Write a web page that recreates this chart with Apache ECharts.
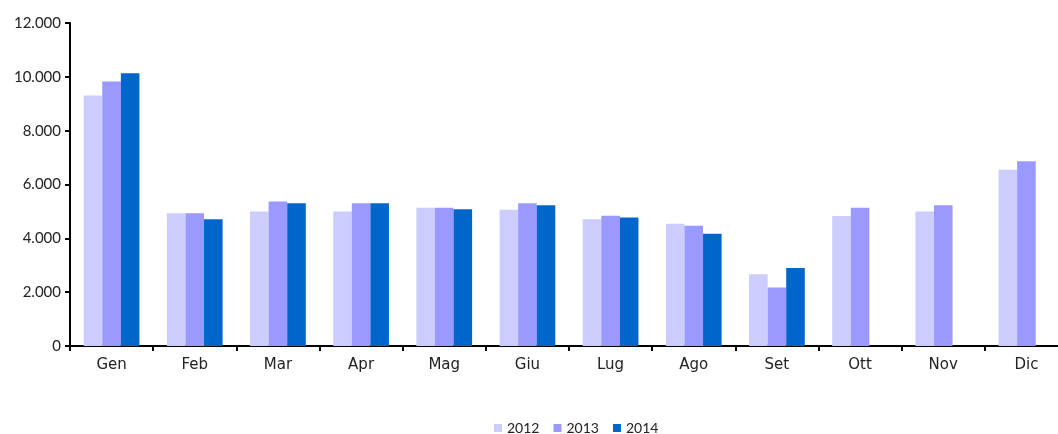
<!DOCTYPE html>
<html><head><meta charset="utf-8">
<script src="https://cdn.jsdelivr.net/npm/echarts@6/dist/echarts.min.js"></script>
<style>html,body{margin:0;padding:0;background:#fff}#c{width:1058px;height:434px}</style>
</head><body><div id="c"></div>
<script>
const categories = ['Gen','Feb','Mar','Apr','Mag','Giu','Lug','Ago','Set','Ott','Nov','Dic'];
const s2012 = [9310,4930,5000,5000,5140,5060,4710,4540,2670,4830,5000,6550];
const s2013 = [9830,4930,5370,5300,5140,5300,4840,4470,2170,5140,5230,6860];
const s2014 = [10130,4710,5300,5300,5080,5230,4770,4170,2900,null,null,null];
const yTicks = [0,2000,4000,6000,8000,10000,12000];
const NUMFONT = 'Lato, "DejaVu Sans", sans-serif';
const TXTFONT = '"DejaVu Sans", Lato, sans-serif';
const chart = echarts.init(document.getElementById('c'));
const fmt = v => v === 0 ? '0' : (v/1000).toFixed(0) + '.000';
chart.setOption({
  animation: false,
  textStyle: {fontFamily: NUMFONT},
  grid: {left: 70, width: 998, top: 23, height: 323, containLabel: false, outerBoundsMode: 'none'},
  legend: {
    top: 416, left: 489, itemWidth: 8, itemHeight: 8, itemGap: 14,
    icon: 'rect', textStyle: {fontSize: 14, color: '#222', fontFamily: NUMFONT},
    data: ['2012','2013','2014']
  },
  xAxis: {
    type: 'category', data: categories,
    axisLine: {lineStyle: {color: '#000', width: 2}},
    axisTick: {show: true, length: 5, lineStyle: {color: '#000', width: 2}},
    axisLabel: {fontSize: 15, color: '#222', margin: 12, fontFamily: TXTFONT}
  },
  yAxis: {
    type: 'value', min: 0, max: yTicks[yTicks.length-1], interval: 2000,
    splitLine: {show: false},
    axisLine: {show: true, lineStyle: {color: '#000', width: 2}},
    axisTick: {show: true, length: 5, lineStyle: {color: '#000', width: 2}},
    axisLabel: {fontSize: 15, color: '#222', margin: 9, formatter: fmt, fontFamily: NUMFONT}
  },
  series: [
    {name: '2012', type: 'bar', data: s2012, barGap: '0%', barCategoryGap: '33%', itemStyle: {color: '#ccccff'}},
    {name: '2013', type: 'bar', data: s2013, barGap: '0%', barCategoryGap: '33%', itemStyle: {color: '#9999ff'}},
    {name: '2014', type: 'bar', data: s2014, barGap: '0%', barCategoryGap: '33%', itemStyle: {color: '#0066cc'}}
  ]
});
</script></body></html>
